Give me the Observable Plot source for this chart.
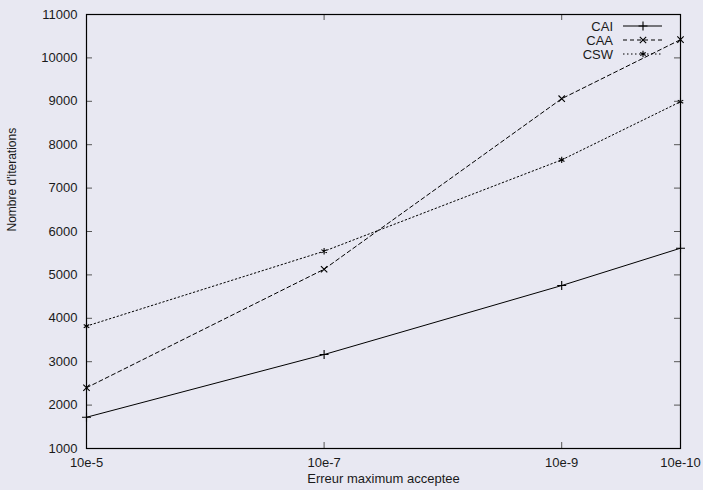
<!DOCTYPE html>
<html><head><meta charset="utf-8">
<script src="https://cdn.jsdelivr.net/npm/d3@7"></script>
<script src="https://cdn.jsdelivr.net/npm/@observablehq/plot@0.6"></script>
<style>
html,body{margin:0;padding:0;background:#e8e8f2;}
#chart{width:703px;height:490px;}
</style></head><body><div id="chart"></div>
<script>
// ---- data ----
const exponents = [5, 7, 9, 10];
const xTickLabels = ["10e-5", "10e-7", "10e-9", "10e-10"];
const yTicks = [1000, 2000, 3000, 4000, 5000, 6000, 7000, 8000, 9000, 10000, 11000];
const seriesNames = ["CAI", "CAA", "CSW"];
const caiValues = [1720, 3165, 4755, 5615];
const caaValues = [2400, 5130, 9060, 10420];
const cswValues = [3820, 5545, 7650, 8990];
const xLabel = "Erreur maximum acceptee";
const yLabel = "Nombre d'iterations";

// ---- build table ----
const seriesValues = [caiValues, caaValues, cswValues];
const rows = [];
seriesNames.forEach((s, i) => exponents.forEach((e, j) => rows.push({s, e, v: seriesValues[i][j]})));

const styles = {
  CAI: {dash: null, symbol: "plus"},
  CAA: {dash: "4,3", symbol: "times"},
  CSW: {dash: "1.5,2.5", symbol: "asterisk"}
};

const W = 703, H = 490, mL = 86, mR = 23, mT = 14, mB = 42;
const plotH = H - mT - mB, plotW = W - mL - mR;
const font = "'Liberation Sans', Arial, Helvetica, sans-serif";

const marks = [
  Plot.axisX(exponents, {tickSize: 0, tickPadding: 9, label: null, fontSize: 13,
    tickFormat: d => xTickLabels[exponents.indexOf(d)]}),
  Plot.axisY(yTicks, {tickSize: 0, tickPadding: 9, label: null, fontSize: 13,
    tickFormat: d => String(d)}),
  Plot.tickX(exponents, {x: d => d, insetTop: plotH - 6, stroke: "#555"}),
  Plot.tickX(exponents, {x: d => d, insetBottom: plotH - 6, stroke: "#555"}),
  Plot.tickY(yTicks, {y: d => d, insetRight: plotW - 6, stroke: "#555"}),
  Plot.tickY(yTicks, {y: d => d, insetLeft: plotW - 6, stroke: "#555"}),
  Plot.text([xLabel], {text: d => d, frameAnchor: "bottom", dy: 34, fontSize: 13, fill: "#1a1a1a"}),
  Plot.text([yLabel], {text: d => d, frameAnchor: "left", dx: -74, rotate: -90, fontSize: 12, fill: "#1a1a1a"})
];
for (const s of seriesNames) {
  const data = rows.filter(r => r.s === s);
  marks.push(Plot.line(data, {x: "e", y: "v", stroke: "#000", strokeWidth: 1,
    strokeDasharray: styles[s].dash || undefined}));
  marks.push(Plot.dot(data, {x: "e", y: "v", symbol: styles[s].symbol, r: 3,
    stroke: "#000", fill: "none", strokeWidth: 1.1}));
}
marks.push(Plot.frame({stroke: "#000", strokeWidth: 1.2}));

const chart = Plot.plot({
  width: W, height: H,
  marginLeft: mL, marginRight: mR, marginTop: mT, marginBottom: mB,
  style: {background: "transparent", fontFamily: font, fontSize: "13px", color: "#1a1a1a", overflow: "visible"},
  x: {domain: [5, 10], label: null},
  y: {domain: [1000, 11000], label: null},
  marks
});
document.getElementById("chart").appendChild(chart);

// ---- legend (inside, top right, gnuplot style) ----
const svg = d3.select(chart);
const lg = svg.append("g").attr("font-family", font).attr("font-size", 13).attr("fill", "#1a1a1a");
const symbolMap = {plus: d3.symbolPlus, times: d3.symbolTimes, asterisk: d3.symbolAsterisk};
seriesNames.forEach((s, i) => {
  const y = 26 + i * 14;
  lg.append("text").attr("x", 613).attr("y", y).attr("dy", "0.35em").attr("text-anchor", "end").text(s);
  lg.append("line").attr("x1", 623).attr("x2", 662).attr("y1", y).attr("y2", y)
    .attr("stroke", "#000").attr("stroke-dasharray", styles[s].dash);
  lg.append("path").attr("transform", `translate(643,${y})`)
    .attr("d", d3.symbol(symbolMap[styles[s].symbol], 9 * Math.PI)())
    .attr("stroke", "#000").attr("fill", "none").attr("stroke-width", 1.1);
});
</script>
</body></html>
